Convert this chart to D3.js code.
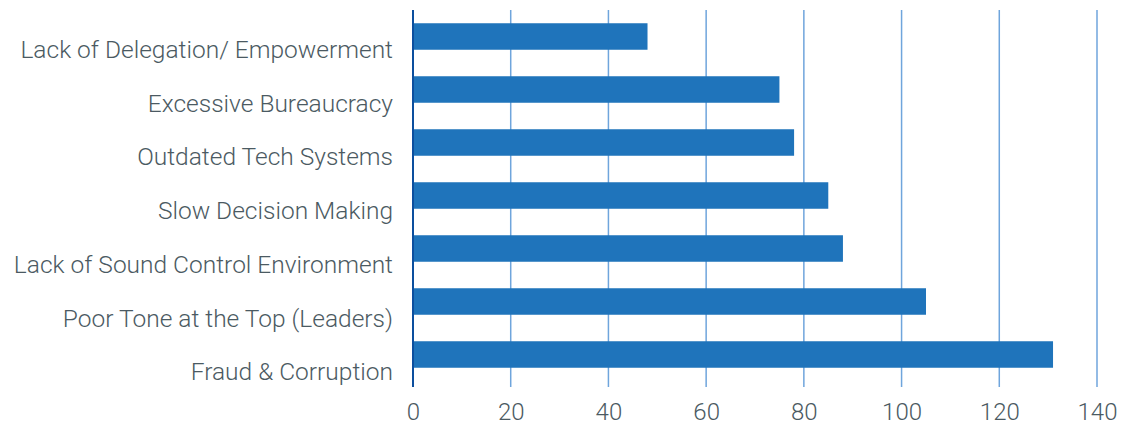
<!DOCTYPE html>
<html>
<head>
<meta charset="utf-8">
<script src="https://cdn.jsdelivr.net/npm/d3@7"></script>
<style>
  html, body { margin: 0; padding: 0; background: #ffffff; }
  svg { display: block; }
  text { font-family: Roboto, "Open Sans", sans-serif; font-weight: 300; fill: #4b5a62; }
</style>
</head>
<body>
<svg id="chart" width="1127" height="427"></svg>
<script>
// Risk factors, listed top to bottom
const categories = [
  "Lack of Delegation/ Empowerment",
  "Excessive Bureaucracy",
  "Outdated Tech Systems",
  "Slow Decision Making",
  "Lack of Sound Control Environment",
  "Poor Tone at the Top (Leaders)",
  "Fraud & Corruption"
];
const values = [48, 75, 78, 85, 88, 105, 131];
const xTicks = [0, 20, 40, 60, 80, 100, 120, 140];

const svg = d3.select("#chart");
const margin = { top: 10, left: 413 };
const plotW = 684, plotH = 371;
const plotBottom = margin.top + plotH;

const x = d3.scaleLinear().domain([0, 140]).range([margin.left, margin.left + plotW]);
const y = d3.scaleBand().domain(categories)
  .range([margin.top, plotBottom]).paddingInner(0.5).paddingOuter(0.25);
// Category labels sit slightly below their bars and spread a touch wider
const yLabel = d3.scalePoint().domain(categories).range([margin.top + 38.7, margin.top + 361]);

// Vertical gridlines (run a little below the plot like ticks)
svg.append("g")
  .selectAll("line")
  .data(xTicks.filter(d => d > 0))
  .join("line")
  .attr("x1", d => x(d)).attr("x2", d => x(d))
  .attr("y1", margin.top).attr("y2", plotBottom + 6)
  .attr("stroke", "#6fa5dc")
  .attr("stroke-width", 1.5);

// Bars
svg.append("g")
  .selectAll("rect")
  .data(categories.map((c, i) => ({ c, v: values[i] })))
  .join("rect")
  .attr("x", x(0))
  .attr("y", d => y(d.c))
  .attr("width", d => x(d.v) - x(0))
  .attr("height", y.bandwidth())
  .attr("fill", "#1f74bb");

// Category axis line
svg.append("line")
  .attr("x1", x(0)).attr("x2", x(0))
  .attr("y1", margin.top).attr("y2", plotBottom + 6)
  .attr("stroke", "#0c4f9e")
  .attr("stroke-width", 2);

// Category labels
const yAxis = d3.axisLeft(yLabel).tickSize(0).tickPadding(20);
svg.append("g")
  .attr("transform", `translate(${x(0)},0)`)
  .call(yAxis)
  .call(g => g.select(".domain").remove())
  .call(g => g.selectAll("text")
    .attr("font-size", 24.5)
    .attr("dy", "0.36em")
    .style("font-family", "Roboto, sans-serif")
    .style("font-weight", 300)
    .attr("fill", "#4b5a62"));

// Value axis labels
const xAxis = d3.axisBottom(x).tickValues(xTicks).tickSize(0).tickPadding(0);
svg.append("g")
  .attr("transform", `translate(0,${plotBottom + 21.5})`)
  .call(xAxis)
  .call(g => g.select(".domain").remove())
  .call(g => g.selectAll("text")
    .attr("font-size", 24)
    .attr("dy", "0.72em")
    .style("font-family", "Roboto, sans-serif")
    .style("font-weight", 300)
    .attr("fill", "#4b5a62"));
</script>
</body>
</html>
